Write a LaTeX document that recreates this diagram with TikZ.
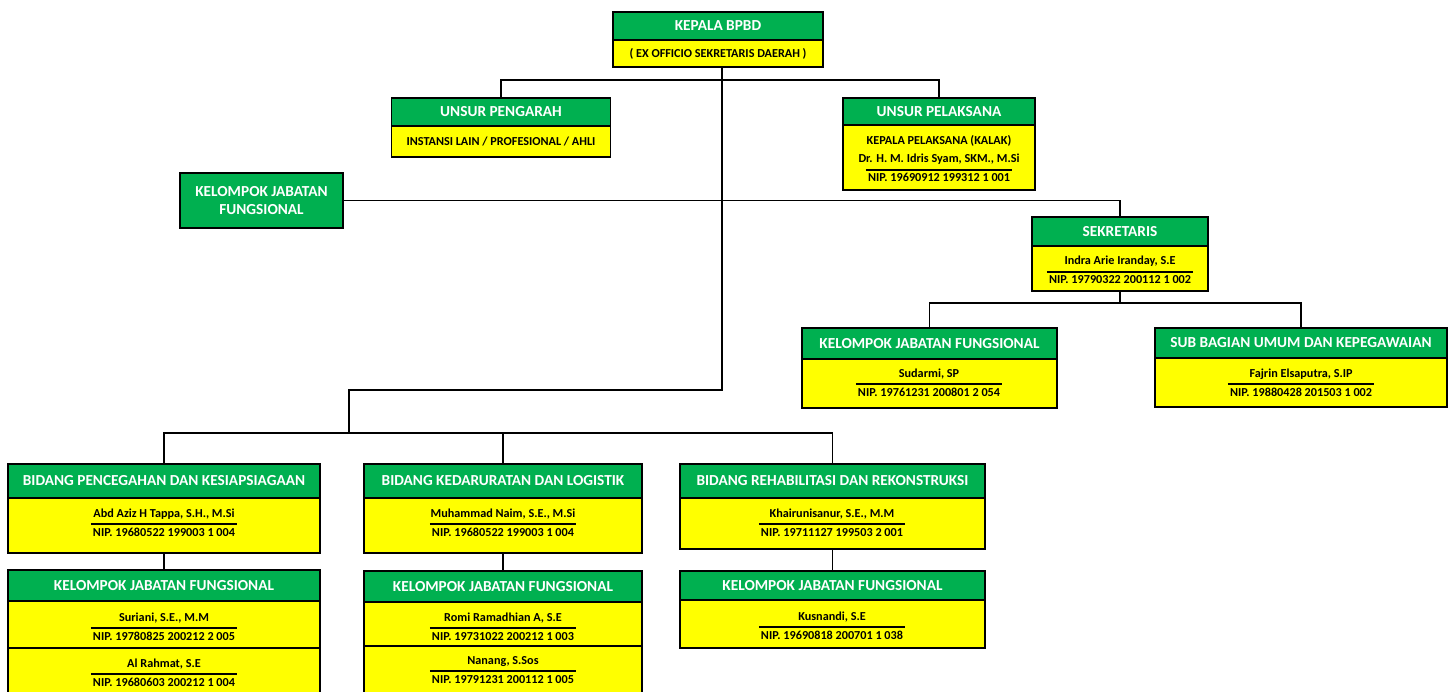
\documentclass[tikz,border=0pt]{standalone}
\usepackage{fontspec}
\setmainfont{Carlito}
\usetikzlibrary{positioning}

\definecolor{hijau}{HTML}{00B050}
\definecolor{kuning}{HTML}{FFFF00}
\newcommand{\fontjudul}{\fontsize{15.3}{18}\selectfont\bfseries}
\newcommand{\fontisi}{\fontsize{12.2}{18}\selectfont\bfseries}

\tikzset{
	judul/.style={draw, line width=1.9pt, fill=hijau, text=white, font=\fontjudul, inner sep=0pt, outer sep=0pt, align=center},
	isi/.style={draw, line width=1.9pt, fill=kuning, font=\fontisi, inner sep=0pt, outer sep=0pt, align=center},
	nama/.style={font=\fontisi, inner sep=1pt, text height=8pt, text depth=2pt},
	nip/.style={font=\fontisi, inner xsep=2pt, inner ysep=4pt, text height=8pt, text depth=2pt},
	garis/.style={line width=1.7pt},
	hubung/.style={line width=1.9pt}
}

\begin{document}
\begin{tikzpicture}[x=1pt, y=-1pt]
	\clip (0,0) rectangle (1455,692);

	% pimpinan
	\node[judul, anchor=north, minimum width=210, minimum height=28] (kepala) at (718,12) {KEPALA BPBD};
	\node[isi, below=0pt of kepala, minimum width=210, minimum height=27] (kepala-isi) {( EX OFFICIO SEKRETARIS DAERAH )};

	\node[judul, anchor=north, minimum width=219, minimum height=28] (pengarah) at (501,98) {UNSUR PENGARAH};
	\node[isi, below=0pt of pengarah, minimum width=219, minimum height=31] (pengarah-isi) {INSTANSI LAIN / PROFESIONAL / AHLI};

	\node[judul, anchor=north, minimum width=192, minimum height=27] (pelaksana) at (939,98) {UNSUR PELAKSANA};
	\node[isi, below=0pt of pelaksana, minimum width=192, minimum height=65] (pelaksana-isi) {};
	\node[nama] (kalak) at (939,142) {KEPALA PELAKSANA (KALAK)};

	\node[judul, anchor=north, minimum width=163, minimum height=55] (kjf) at (261.5,173) {KELOMPOK JABATAN\\FUNGSIONAL};

	% sekretariat
	\node[judul, anchor=north, minimum width=176, minimum height=29] (sekretaris) at (1120,217) {SEKRETARIS};
	\node[isi, below=0pt of sekretaris, minimum width=176, minimum height=45] (sekretaris-isi) {};

	\node[judul, anchor=north, minimum width=255, minimum height=31] (kjfsek) at (929.5,328) {KELOMPOK JABATAN FUNGSIONAL};
	\node[isi, below=0pt of kjfsek, minimum width=255, minimum height=49] (kjfsek-isi) {};

	\node[judul, anchor=north, minimum width=292, minimum height=30] (subbag) at (1301,328) {SUB BAGIAN UMUM DAN KEPEGAWAIAN};
	\node[isi, below=0pt of subbag, minimum width=292, minimum height=49] (subbag-isi) {};

	% bidang
	\node[judul, anchor=north, minimum width=312, minimum height=34] (pencegahan) at (164,464) {BIDANG PENCEGAHAN DAN KESIAPSIAGAAN};
	\node[isi, below=0pt of pencegahan, minimum width=312, minimum height=55] (pencegahan-isi) {};
	\node[judul, anchor=north, minimum width=312, minimum height=31] (kjfcegah) at (164,570) {KELOMPOK JABATAN FUNGSIONAL};
	\node[isi, below=0pt of kjfcegah, minimum width=312, minimum height=47] (kjfcegah-isi) {};
	\node[isi, below=0pt of kjfcegah-isi, minimum width=312, minimum height=60] (kjfcegah-isi2) {};

	\node[judul, anchor=north, minimum width=278, minimum height=34] (kedaruratan) at (503,464) {BIDANG KEDARURATAN DAN LOGISTIK};
	\node[isi, below=0pt of kedaruratan, minimum width=278, minimum height=55] (kedaruratan-isi) {};
	\node[judul, anchor=north, minimum width=278, minimum height=31] (kjfdarurat) at (503,571) {KELOMPOK JABATAN FUNGSIONAL};
	\node[isi, below=0pt of kjfdarurat, minimum width=278, minimum height=44] (kjfdarurat-isi) {};
	\node[isi, below=0pt of kjfdarurat-isi, minimum width=278, minimum height=60] (kjfdarurat-isi2) {};

	\node[judul, anchor=north, minimum width=305, minimum height=34] (rehabilitasi) at (832.5,464) {BIDANG REHABILITASI DAN REKONSTRUKSI};
	\node[isi, below=0pt of rehabilitasi, minimum width=305, minimum height=51] (rehabilitasi-isi) {};
	\node[judul, anchor=north, minimum width=305, minimum height=29] (kjfrehab) at (832.5,571) {KELOMPOK JABATAN FUNGSIONAL};
	\node[isi, below=0pt of kjfrehab, minimum width=305, minimum height=48] (kjfrehab-isi) {};

	% pejabat
	\foreach \id/\x/\y/\nama/\nip in {
		pelaksana/939/160/{Dr. H. M. Idris Syam, SKM., M.Si}/{NIP. 19690912 199312 1 001},
		sekretaris/1120/262/{Indra Arie Iranday, S.E}/{NIP. 19790322 200112 1 002},
		kjfsek/929/374/{Sudarmi, SP}/{NIP. 19761231 200801 2 054},
		subbag/1301/374/{Fajrin Elsaputra, S.IP}/{NIP. 19880428 201503 1 002},
		pencegahan/164/514/{Abd Aziz H Tappa, S.H., M.Si}/{NIP. 19680522 199003 1 004},
		cegah1/164/618/{Suriani, S.E., M.M}/{NIP. 19780825 200212 2 005},
		cegah2/164/664/{Al Rahmat, S.E}/{NIP. 19680603 200212 1 004},
		kedaruratan/503/514/{Muhammad Naim, S.E., M.Si}/{NIP. 19680522 199003 1 004},
		darurat1/503/618/{Romi Ramadhian A, S.E}/{NIP. 19731022 200212 1 003},
		darurat2/503/661/{Nanang, S.Sos}/{NIP. 19791231 200112 1 005},
		rehabilitasi/832/514/{Khairunisanur, S.E., M.M}/{NIP. 19711127 199503 2 001},
		rehab1/832/617/{Kusnandi, S.E}/{NIP. 19690818 200701 1 038}}
	{
		\node[nama] (\id-nama) at (\x,\y) {\nama};
		\node[nip] (\id-nip) at (\x,\y+19) {\nip};
		\draw[garis] (\id-nip.north west) -- (\id-nip.north east);
	}

	% garis hubung
	\coordinate (turun) at ([xshift=4]kepala-isi.south);
	\coordinate (unsur) at (turun |- 0,80);
	\coordinate (simpul) at (turun |- 0,390);
	\coordinate (bidang) at (349,433);
	\coordinate (sek-cabang) at (sekretaris-isi.south |- 0,303);

	\draw[hubung] (pengarah.north) |- (unsur) -| (pelaksana.north);
	\draw[hubung] (turun) -- (simpul) -| (bidang);
	\draw[hubung] (pencegahan.north) |- (bidang) -| (rehabilitasi.north);
	\draw[hubung] (kedaruratan.north) -- (kedaruratan.north |- bidang);
	\draw[hubung] (kjf.east) -| (sekretaris.north);
	\draw[hubung] (sekretaris-isi.south) -- (sek-cabang);
	\draw[hubung] (kjfsek.north) |- (sek-cabang) -| (subbag.north);
	\draw[hubung] (pencegahan-isi.south) -- (kjfcegah.north);
	\draw[hubung] (kedaruratan-isi.south) -- (kjfdarurat.north);
	\draw[hubung] (rehabilitasi-isi.south) -- (kjfrehab.north);

\end{tikzpicture}
\end{document}
